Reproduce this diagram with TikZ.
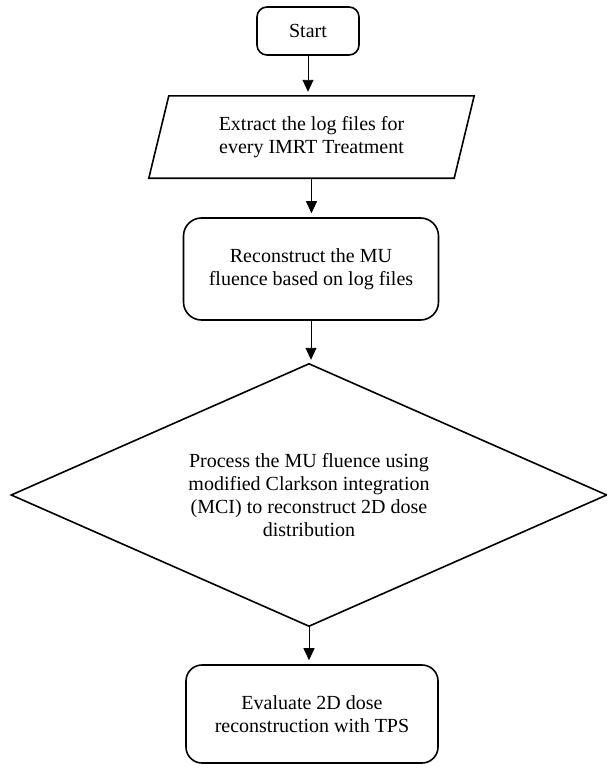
\documentclass[tikz,border=0pt]{standalone}
\usepackage{fontspec}
\setmainfont{Liberation Serif}
\usetikzlibrary{arrows.meta}
\begin{document}
\begin{tikzpicture}[x=1pt,y=-1pt,
  every node/.style={font=\fontsize{20}{23}\selectfont, align=center, inner sep=0pt},
  rbox/.style={draw, line width=1.6pt, rounded corners=#1},
  arr/.style={line width=0.9pt, -{Triangle[length=12pt,width=11pt]}, shorten >=4pt},
  shapeline/.style={line width=1.6pt, line join=miter}]
\useasboundingbox (0,0) rectangle (607,768);
\node[rbox=10pt, minimum width=102pt, minimum height=48pt] (start) at (308,31) {Start};
\node[minimum width=325pt, minimum height=82pt] (ext) at (311.5,137) {Extract the log files for\\every IMRT Treatment};
\draw[shapeline] ([xshift=20pt]ext.north west) -- (ext.north east) -- ([xshift=-20pt]ext.south east) -- (ext.south west) -- cycle;
\node[rbox=18pt, minimum width=255pt, minimum height=102pt] (recon) at (311,269) {Reconstruct the MU\\fluence based on log files};
\node[minimum width=595pt, minimum height=262pt] (proc) at (309,495) {Process the MU fluence using\\modified Clarkson integration\\(MCI) to reconstruct 2D dose\\distribution};
\draw[shapeline] (proc.north) -- (proc.east) -- (proc.south) -- (proc.west) -- cycle;
\node[rbox=16pt, minimum width=252pt, minimum height=98pt] (eval) at (312,714) {Evaluate 2D dose\\reconstruction with TPS};
\draw[arr] (start.south) -- (start.south |- ext.north);
\draw[arr] (ext.south) -- (ext.south |- recon.north);
\draw[arr] (recon.south) -- (recon.south |- proc.north);
\draw[arr] (proc.south) -- (proc.south |- eval.north);
\end{tikzpicture}
\end{document}
